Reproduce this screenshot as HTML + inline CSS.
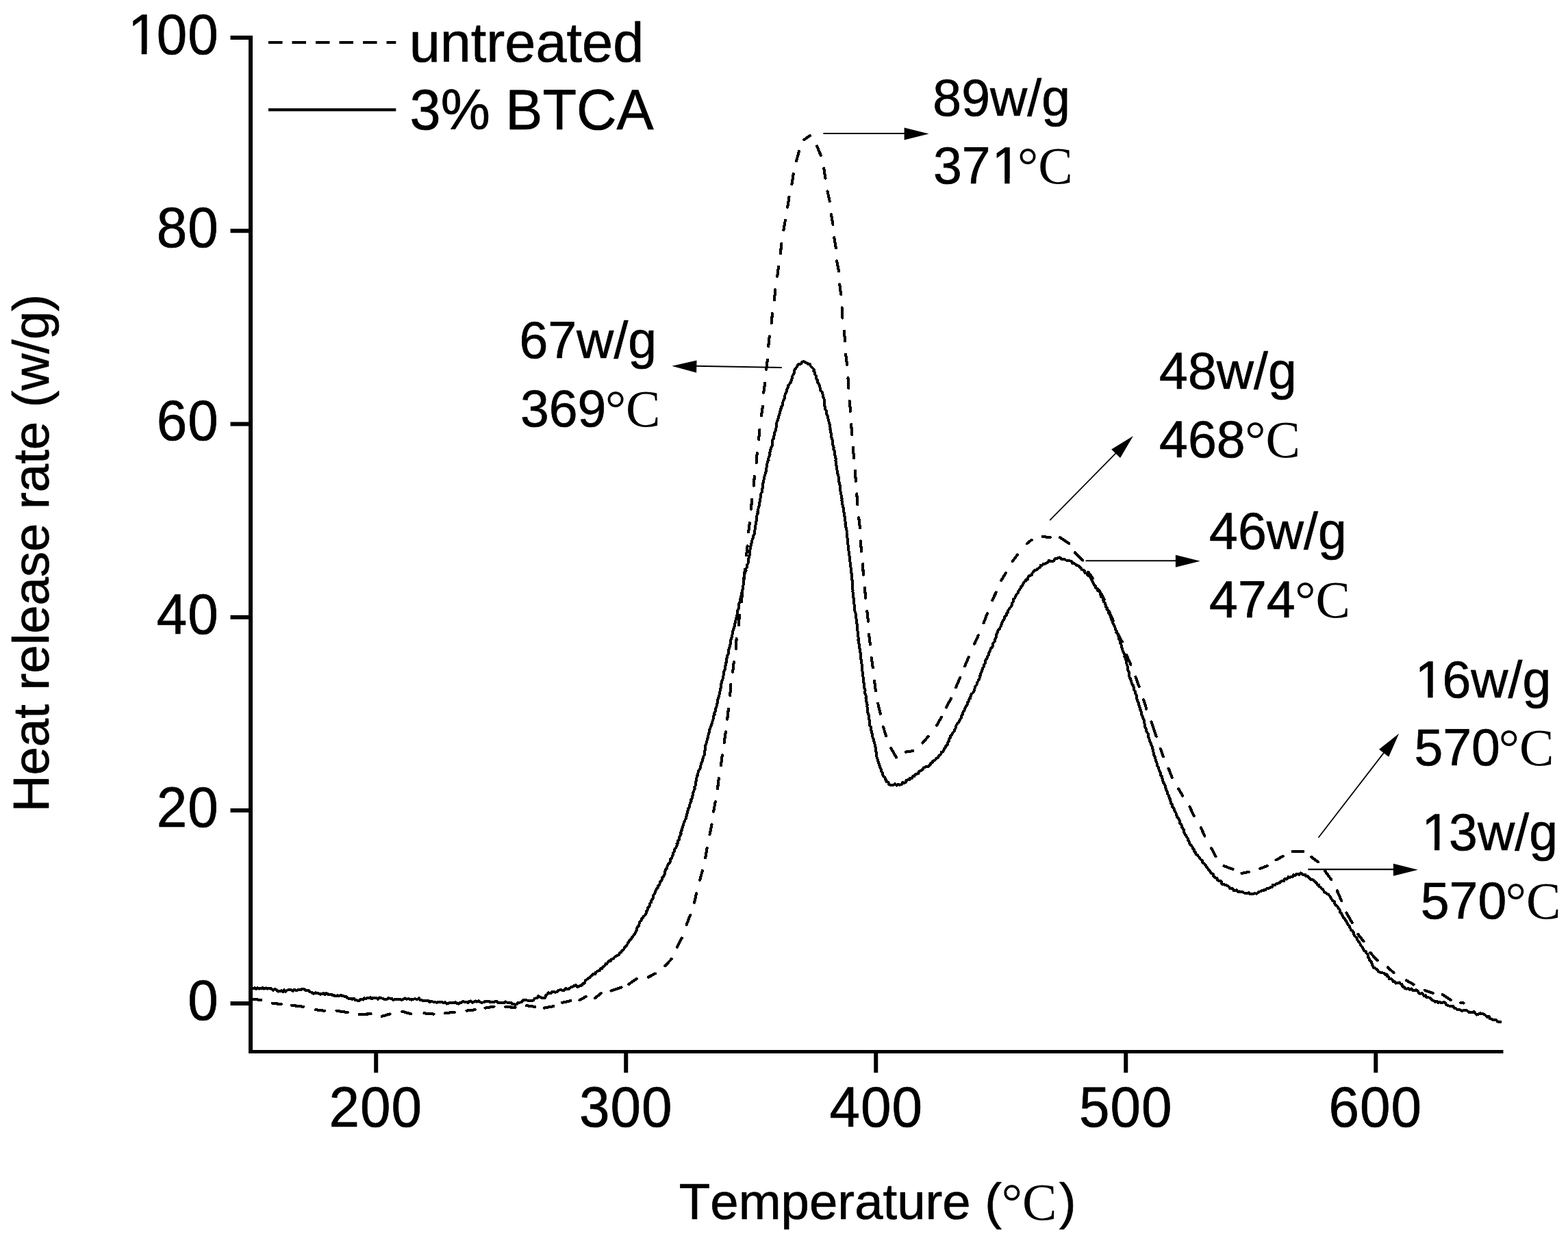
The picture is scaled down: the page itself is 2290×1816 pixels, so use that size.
<!DOCTYPE html>
<html lang="en">
<head>
<meta charset="utf-8">
<title>Heat release rate vs temperature</title>
<style>
html,body{margin:0;padding:0;background:#fff}
body{width:2290px;height:1816px;overflow:hidden}
svg{display:block}
text{font-kerning:none;white-space:pre}
</style>
</head>
<body>
<svg width="2290" height="1816" viewBox="0 0 2290 1816" role="img" aria-label="Heat release rate versus temperature for untreated and 3% BTCA treated samples">
<rect width="2290" height="1816" fill="#fff"/>
<!-- axes and ticks -->
<g stroke="#000" stroke-width="6.0" fill="none">
<path d="M366.0 52.0V1538.9"/>
<path d="M363.0 1536.4H2195.5" stroke-width="5.0"/>
<path d="M336.5 1466.10H366.0M336.5 1183.88H366.0M336.5 901.66H366.0M336.5 619.44H366.0M336.5 337.22H366.0M336.5 55.00H366.0M549.20 1536.4V1567.3M914.23 1536.4V1567.3M1279.25 1536.4V1567.3M1644.27 1536.4V1567.3M2009.30 1536.4V1567.3" stroke-width="6.0"/>
</g>
<!-- legend keys -->
<path d="M392 62.0H578.3" stroke="#000" stroke-width="4.0" stroke-dasharray="20.5 14" fill="none"/>
<path d="M392 160.3H578.3" stroke="#000" stroke-width="4.2" fill="none"/>
<!-- 3% BTCA (solid) -->
<path d="M368.9 1444.4 L370.2 1443.9 L371.9 1443.4 L373.8 1444.9 L376.0 1443.2 L378.4 1444.6 L380.9 1444.1 L383.5 1443.2 L385.9 1444.6 L388.4 1443.3 L390.7 1444.6 L392.8 1443.6 L395.1 1443.9 L397.1 1445.2 L398.9 1446.8 L401.3 1445.1 L403.2 1445.8 L404.9 1447.4 L406.7 1448.6 L409.0 1447.8 L411.2 1447.4 L413.1 1449.2 L415.1 1446.3 L417.2 1448.7 L419.2 1446.8 L421.3 1446.2 L423.4 1445.9 L425.6 1446.3 L427.8 1447.7 L429.7 1445.6 L431.7 1446.7 L433.5 1446.8 L435.9 1446.0 L438.3 1446.5 L440.7 1445.1 L443.0 1445.2 L445.1 1445.7 L446.9 1447.3 L448.7 1446.8 L450.4 1446.7 L452.1 1448.3 L453.0 1449.3 L456.0 1449.9 L457.1 1451.6 L458.9 1451.5 L461.0 1450.3 L463.1 1451.4 L465.4 1451.4 L467.7 1452.6 L470.1 1452.3 L472.5 1451.1 L474.5 1453.3 L476.7 1450.9 L478.4 1452.0 L479.7 1453.1 L483.8 1452.5 L485.2 1454.4 L487.5 1453.7 L489.2 1455.5 L491.1 1455.4 L493.0 1454.4 L495.4 1455.1 L498.5 1453.6 L499.9 1455.1 L501.7 1455.3 L503.7 1455.9 L505.9 1456.3 L507.7 1458.0 L509.8 1459.1 L512.4 1458.6 L514.5 1459.8 L517.0 1458.7 L518.7 1461.0 L520.7 1461.1 L522.8 1462.3 L524.9 1461.8 L526.7 1460.0 L528.5 1460.0 L530.5 1460.5 L532.1 1458.2 L534.4 1459.1 L536.6 1458.0 L539.1 1457.7 L541.0 1457.4 L543.0 1459.5 L545.1 1457.5 L547.4 1457.8 L549.7 1458.3 L552.1 1459.7 L554.5 1457.3 L556.9 1458.4 L559.2 1458.7 L561.4 1459.8 L563.5 1459.6 L565.5 1459.8 L567.3 1458.1 L568.9 1458.5 L572.1 1458.7 L573.5 1460.6 L574.7 1461.4 L577.0 1459.5 L580.0 1459.7 L581.5 1459.9 L583.3 1459.8 L585.2 1460.5 L587.3 1460.6 L589.4 1459.5 L591.6 1458.5 L594.0 1459.6 L596.4 1459.3 L598.7 1459.7 L601.1 1460.7 L603.4 1459.9 L605.6 1459.3 L607.7 1459.6 L609.7 1459.9 L612.1 1458.3 L613.7 1461.2 L615.8 1461.2 L617.6 1462.0 L619.6 1462.3 L621.8 1461.8 L623.7 1462.4 L625.8 1462.2 L627.4 1464.2 L629.8 1463.0 L631.8 1463.4 L634.0 1464.1 L635.9 1464.2 L637.8 1464.8 L639.8 1464.1 L641.8 1464.0 L643.9 1464.5 L646.0 1464.4 L648.1 1465.2 L650.3 1464.2 L652.5 1466.7 L654.6 1465.9 L656.8 1464.5 L659.0 1464.7 L661.1 1464.9 L663.3 1464.9 L665.4 1464.2 L667.5 1466.3 L669.6 1466.6 L671.5 1464.9 L673.5 1464.9 L675.4 1463.5 L677.4 1463.4 L679.4 1464.0 L681.4 1463.6 L683.6 1465.1 L685.5 1463.0 L687.6 1462.4 L690.0 1465.1 L692.1 1463.7 L694.4 1462.5 L696.9 1463.6 L698.7 1462.1 L700.7 1463.6 L702.7 1464.9 L704.8 1464.6 L707.0 1464.1 L709.2 1462.8 L711.5 1463.1 L713.8 1462.5 L716.1 1464.4 L718.4 1463.7 L720.7 1464.5 L723.0 1463.2 L725.2 1462.9 L727.3 1464.8 L729.4 1465.3 L731.4 1465.0 L733.3 1465.0 L735.1 1465.1 L736.7 1464.9 L738.3 1463.5 L739.6 1464.5 L743.8 1464.6 L746.5 1464.8 L747.8 1465.9 L748.4 1466.9 L749.9 1466.9 L752.0 1467.7 L754.4 1467.4 L756.0 1465.1 L758.8 1465.1 L760.9 1464.1 L762.8 1463.2 L764.0 1461.0 L766.8 1460.6 L769.1 1461.3 L771.1 1461.8 L773.3 1461.8 L775.2 1462.4 L777.5 1462.2 L779.4 1460.9 L780.9 1458.9 L783.0 1458.2 L785.0 1457.7 L786.2 1455.1 L789.0 1456.7 L791.2 1457.9 L793.6 1458.2 L796.0 1457.9 L797.0 1456.0 L797.4 1454.0 L799.5 1452.7 L801.0 1450.3 L802.9 1451.0 L804.8 1451.1 L806.4 1449.0 L808.6 1448.7 L811.1 1449.9 L813.4 1448.9 L815.4 1446.9 L817.5 1446.4 L819.5 1446.0 L822.4 1447.5 L824.5 1446.5 L826.1 1443.9 L828.9 1445.0 L831.2 1444.6 L832.9 1443.0 L834.6 1441.5 L836.5 1441.5 L838.9 1439.8 L841.3 1439.3 L843.6 1442.1 L845.6 1440.8 L847.6 1439.7 L849.8 1439.6 L850.6 1437.4 L852.7 1436.9 L854.2 1435.4 L854.8 1432.9 L856.5 1431.4 L858.4 1429.9 L859.8 1428.6 L861.9 1427.9 L863.1 1425.9 L865.0 1424.9 L866.3 1422.9 L869.3 1423.0 L870.1 1420.5 L871.9 1419.4 L873.7 1418.4 L876.0 1417.6 L877.0 1415.3 L879.4 1415.0 L880.5 1412.9 L882.1 1411.7 L883.7 1410.4 L884.4 1408.2 L886.5 1407.9 L887.8 1405.9 L889.1 1404.2 L891.8 1404.2 L892.2 1401.8 L894.2 1401.0 L896.1 1400.1 L897.4 1398.7 L898.6 1397.2 L900.4 1396.6 L902.1 1395.6 L904.1 1394.9 L904.7 1392.2 L907.1 1391.4 L907.8 1389.6 L909.1 1388.1 L911.2 1387.0 L912.0 1384.8 L913.4 1383.0 L915.0 1381.4 L916.4 1379.7 L916.8 1377.5 L918.2 1376.1 L919.0 1374.6 L920.7 1372.5 L922.3 1371.3 L923.0 1369.7 L924.3 1368.3 L925.5 1366.3 L927.0 1365.0 L927.6 1362.9 L928.7 1361.0 L929.8 1359.0 L929.7 1356.4 L931.1 1354.5 L932.7 1352.7 L933.5 1350.8 L933.6 1348.2 L934.7 1346.3 L936.4 1344.9 L937.0 1342.8 L938.5 1341.2 L939.4 1339.2 L941.6 1337.6 L942.7 1336.0 L943.8 1334.2 L943.6 1331.7 L945.3 1330.1 L946.2 1328.0 L946.4 1325.6 L948.4 1324.1 L949.4 1322.1 L949.2 1319.7 L951.1 1318.3 L951.2 1316.0 L952.1 1314.2 L953.7 1312.6 L954.3 1310.6 L954.1 1308.3 L955.4 1306.7 L956.3 1304.9 L956.9 1303.1 L957.7 1300.8 L959.1 1298.7 L960.9 1296.8 L960.9 1294.2 L962.8 1292.7 L963.6 1290.8 L963.8 1288.9 L965.4 1286.9 L966.4 1285.8 L967.4 1283.1 L967.4 1281.4 L969.4 1280.4 L969.9 1278.4 L971.0 1276.6 L970.7 1274.0 L971.8 1272.1 L972.4 1269.9 L974.3 1268.3 L974.5 1266.1 L975.1 1264.1 L976.3 1262.4 L977.9 1260.9 L978.6 1259.0 L978.6 1256.8 L979.3 1254.9 L981.2 1253.5 L981.6 1251.4 L982.6 1249.5 L982.5 1247.4 L983.2 1245.6 L984.8 1244.2 L985.2 1242.2 L985.5 1240.2 L987.4 1238.8 L987.7 1236.7 L988.7 1234.9 L988.5 1232.5 L990.3 1230.9 L989.9 1228.6 L991.7 1226.9 L991.8 1224.7 L992.4 1222.5 L993.4 1220.4 L994.6 1218.4 L994.4 1216.0 L994.9 1213.9 L996.1 1212.0 L996.4 1209.9 L996.8 1208.0 L997.7 1205.7 L998.3 1203.4 L999.2 1201.4 L1000.0 1199.5 L1000.6 1197.5 L1001.9 1195.7 L1001.9 1193.5 L1002.9 1191.4 L1003.1 1189.3 L1004.0 1187.3 L1004.2 1185.2 L1005.1 1183.2 L1005.4 1181.1 L1006.9 1179.2 L1007.3 1177.0 L1007.5 1174.8 L1008.5 1172.7 L1009.6 1170.9 L1009.1 1168.6 L1010.6 1166.8 L1010.7 1164.7 L1011.3 1162.6 L1012.3 1160.7 L1012.3 1158.4 L1013.0 1156.4 L1013.8 1154.3 L1014.7 1152.2 L1014.4 1150.1 L1015.5 1148.2 L1015.8 1146.2 L1016.2 1144.1 L1016.4 1142.0 L1016.9 1139.9 L1017.0 1137.8 L1017.6 1135.8 L1018.1 1133.7 L1019.4 1131.8 L1019.4 1129.6 L1019.9 1127.5 L1020.5 1125.4 L1022.2 1123.6 L1022.9 1121.5 L1023.4 1119.3 L1023.6 1117.1 L1024.3 1115.0 L1025.1 1113.0 L1026.0 1111.0 L1026.2 1109.0 L1027.1 1107.2 L1027.5 1104.9 L1028.7 1103.0 L1029.1 1101.0 L1029.0 1098.9 L1029.1 1096.9 L1030.1 1095.1 L1029.8 1092.9 L1030.3 1090.8 L1030.4 1088.4 L1031.3 1086.6 L1031.9 1084.8 L1032.4 1082.8 L1032.6 1080.7 L1033.5 1078.8 L1033.5 1076.5 L1034.4 1074.5 L1034.7 1072.4 L1035.7 1070.4 L1035.8 1068.2 L1036.4 1066.1 L1037.3 1064.1 L1037.7 1062.1 L1038.7 1060.1 L1039.2 1058.0 L1040.1 1056.0 L1040.5 1053.8 L1041.2 1051.8 L1041.9 1049.8 L1041.9 1047.5 L1042.4 1045.5 L1043.7 1043.8 L1043.2 1041.6 L1044.4 1040.0 L1044.9 1037.6 L1044.7 1035.3 L1046.1 1033.5 L1046.7 1031.5 L1046.9 1029.5 L1047.5 1027.6 L1048.0 1025.6 L1047.8 1023.3 L1048.7 1021.2 L1049.2 1019.3 L1050.0 1017.4 L1050.4 1015.3 L1050.9 1013.3 L1051.1 1011.1 L1051.9 1009.0 L1052.2 1006.9 L1052.7 1004.8 L1052.6 1002.6 L1052.9 1000.5 L1053.4 998.6 L1054.1 996.6 L1054.3 994.5 L1055.5 992.7 L1055.6 990.6 L1056.1 988.7 L1056.6 986.8 L1057.0 984.9 L1057.2 982.9 L1057.1 980.8 L1058.4 979.1 L1058.8 977.1 L1058.9 975.1 L1059.4 973.2 L1059.9 971.2 L1059.7 969.2 L1060.9 967.4 L1060.7 965.3 L1061.0 963.3 L1061.6 961.3 L1062.5 959.5 L1062.4 957.3 L1063.5 955.4 L1064.2 953.4 L1064.1 951.2 L1064.4 949.1 L1065.0 947.1 L1065.7 945.1 L1066.3 943.0 L1066.6 940.9 L1067.1 938.8 L1066.9 936.6 L1067.5 934.5 L1068.1 932.4 L1069.1 930.4 L1069.1 928.2 L1069.8 926.2 L1069.7 924.0 L1070.2 922.0 L1070.9 920.1 L1071.8 918.2 L1072.4 916.0 L1072.9 913.8 L1072.9 911.7 L1073.7 909.7 L1074.1 907.7 L1074.6 905.7 L1074.8 903.5 L1076.1 901.4 L1075.8 899.3 L1077.1 897.5 L1077.4 895.5 L1076.9 893.2 L1077.8 891.2 L1078.6 889.1 L1079.2 887.0 L1079.1 884.8 L1079.3 882.7 L1079.7 880.7 L1081.0 878.8 L1080.6 876.6 L1081.5 874.7 L1081.5 872.6 L1082.5 870.7 L1083.4 868.8 L1083.0 866.5 L1084.2 864.5 L1084.3 862.1 L1085.0 860.3 L1085.2 858.3 L1085.0 856.2 L1085.9 854.2 L1085.9 852.0 L1085.7 849.7 L1086.0 847.6 L1086.8 845.5 L1087.1 843.4 L1087.2 841.4 L1087.4 839.4 L1087.9 837.7 L1088.4 835.2 L1089.6 833.3 L1089.1 831.0 L1090.6 829.4 L1091.3 827.5 L1091.0 825.3 L1092.5 823.4 L1092.8 821.0 L1093.4 819.2 L1093.1 817.2 L1093.6 815.2 L1093.9 813.1 L1094.9 811.0 L1094.8 808.8 L1095.0 806.6 L1095.4 804.4 L1095.6 802.3 L1095.7 800.2 L1096.1 798.3 L1097.3 796.7 L1097.2 794.1 L1098.5 792.2 L1098.2 790.0 L1098.8 788.1 L1099.6 786.3 L1099.8 784.2 L1100.5 782.1 L1101.7 779.8 L1101.9 778.0 L1102.2 776.1 L1102.4 774.2 L1103.0 772.2 L1103.3 770.2 L1103.3 768.0 L1103.8 765.9 L1103.5 763.7 L1104.5 761.7 L1104.5 759.5 L1105.2 757.5 L1105.4 755.4 L1105.5 753.3 L1105.6 751.3 L1106.9 749.4 L1106.4 747.2 L1107.2 745.3 L1107.5 743.2 L1107.8 741.2 L1108.7 739.2 L1109.3 737.3 L1109.0 735.1 L1109.8 733.2 L1109.8 731.1 L1110.4 729.1 L1110.7 727.0 L1110.8 724.9 L1111.2 722.9 L1111.6 720.8 L1112.7 718.9 L1112.7 716.8 L1112.8 714.7 L1113.9 712.8 L1114.3 710.8 L1114.2 708.8 L1114.2 706.7 L1114.7 704.7 L1115.0 702.6 L1115.6 700.7 L1115.8 698.8 L1116.3 696.9 L1116.7 694.9 L1117.5 693.0 L1118.3 691.1 L1118.6 688.9 L1118.7 686.6 L1119.2 684.3 L1119.7 682.5 L1120.0 680.5 L1120.4 678.5 L1120.6 676.3 L1121.3 674.2 L1122.6 672.3 L1122.2 669.8 L1123.1 667.7 L1123.8 665.6 L1124.6 663.5 L1124.3 661.2 L1124.9 659.1 L1125.3 657.1 L1126.0 655.2 L1126.4 653.4 L1127.6 651.2 L1128.0 648.9 L1128.5 646.8 L1128.0 644.5 L1128.5 642.6 L1129.7 640.8 L1130.3 639.0 L1130.3 636.9 L1130.9 635.1 L1130.7 633.0 L1131.6 631.1 L1132.6 629.2 L1133.0 627.1 L1133.5 625.0 L1134.1 622.9 L1133.7 620.7 L1134.1 618.6 L1134.6 616.5 L1135.4 614.6 L1136.1 612.7 L1136.9 610.8 L1137.2 608.9 L1137.7 606.6 L1138.5 604.6 L1138.8 602.4 L1139.6 600.4 L1139.6 598.2 L1141.2 596.6 L1141.2 594.3 L1142.7 592.6 L1143.1 590.4 L1143.3 588.2 L1143.7 586.1 L1144.5 584.1 L1145.6 582.1 L1146.4 580.0 L1146.3 577.6 L1146.9 575.5 L1148.1 573.7 L1148.9 571.8 L1149.2 569.8 L1149.8 567.6 L1151.2 565.8 L1151.2 563.5 L1152.4 561.9 L1153.5 560.2 L1155.0 558.8 L1155.3 556.8 L1156.3 555.2 L1156.6 552.7 L1157.1 550.3 L1157.9 548.0 L1159.5 546.2 L1160.0 544.0 L1160.2 541.9 L1160.8 539.5 L1162.5 537.8 L1163.9 536.1 L1164.6 534.1 L1165.6 532.4 L1168.0 531.8 L1170.1 531.5 L1171.4 528.9 L1173.5 528.0 L1176.1 529.2 L1178.6 530.3 L1180.6 532.2 L1183.1 532.4 L1183.8 534.9 L1185.5 536.4 L1187.4 538.3 L1188.7 539.9 L1188.4 542.4 L1190.1 544.3 L1190.1 546.8 L1191.6 548.9 L1192.4 551.2 L1192.4 553.6 L1193.8 555.5 L1193.7 557.9 L1195.1 559.8 L1196.3 561.9 L1197.1 564.2 L1197.6 566.3 L1198.1 568.5 L1198.5 570.8 L1200.5 572.5 L1200.9 574.8 L1201.9 576.8 L1201.6 579.3 L1203.1 581.1 L1203.6 583.3 L1204.0 585.4 L1204.0 587.6 L1203.8 589.8 L1204.2 591.9 L1204.7 594.1 L1204.9 596.2 L1205.5 598.3 L1206.7 600.2 L1207.4 602.2 L1207.1 604.6 L1207.9 606.7 L1209.2 608.7 L1209.0 610.8 L1209.8 612.8 L1210.2 614.8 L1210.8 616.9 L1211.4 618.9 L1212.0 621.0 L1212.2 623.3 L1212.6 625.5 L1212.3 627.6 L1213.5 629.4 L1213.0 631.6 L1214.1 633.6 L1214.3 635.7 L1214.2 637.9 L1214.6 640.0 L1215.3 642.0 L1216.0 644.0 L1216.0 646.2 L1216.5 648.2 L1216.3 650.4 L1217.4 652.3 L1217.6 654.4 L1217.4 656.6 L1218.7 658.5 L1218.6 660.6 L1218.6 662.7 L1219.0 664.8 L1220.1 666.8 L1220.4 668.9 L1220.7 671.0 L1220.2 673.2 L1221.2 675.2 L1221.1 677.6 L1221.3 680.1 L1222.2 681.8 L1222.5 683.7 L1222.2 685.8 L1222.8 687.8 L1223.5 689.8 L1223.4 691.9 L1224.2 694.0 L1224.5 696.2 L1225.2 698.4 L1224.8 700.7 L1225.0 703.1 L1225.6 704.9 L1225.6 706.8 L1226.7 708.6 L1226.8 710.7 L1226.9 712.7 L1226.8 714.9 L1227.1 716.9 L1227.9 718.9 L1228.4 721.0 L1228.5 723.1 L1228.8 725.1 L1228.7 727.2 L1229.7 729.1 L1229.4 731.1 L1229.8 733.2 L1230.0 735.3 L1230.4 737.3 L1230.9 739.3 L1231.5 741.3 L1231.8 743.3 L1232.1 745.3 L1232.0 747.4 L1233.0 749.2 L1233.2 751.2 L1233.0 753.3 L1233.7 755.3 L1234.2 757.2 L1234.5 759.3 L1234.3 761.4 L1234.8 763.4 L1234.5 765.5 L1234.9 767.6 L1235.0 769.7 L1235.9 771.6 L1236.4 773.7 L1236.6 775.7 L1236.5 777.7 L1236.6 779.7 L1237.0 781.6 L1237.4 783.5 L1237.5 785.7 L1237.6 787.8 L1237.8 789.8 L1237.9 791.8 L1238.0 793.8 L1238.4 795.7 L1239.0 797.6 L1238.6 799.6 L1239.3 801.6 L1239.3 803.7 L1239.7 805.9 L1239.6 807.8 L1240.3 809.7 L1240.5 811.7 L1240.8 813.7 L1241.1 815.7 L1240.7 817.8 L1241.3 819.8 L1241.7 821.8 L1241.9 823.9 L1241.7 826.0 L1242.3 828.0 L1242.8 830.0 L1242.5 832.1 L1242.9 834.1 L1242.8 836.2 L1243.7 838.1 L1243.6 840.2 L1243.5 842.2 L1243.7 844.2 L1243.8 846.2 L1244.7 848.2 L1244.7 850.2 L1245.0 852.2 L1245.1 854.2 L1244.6 856.3 L1245.1 858.3 L1245.0 860.3 L1245.6 862.3 L1245.4 864.4 L1245.9 866.4 L1246.2 868.4 L1246.0 870.4 L1246.0 872.4 L1246.8 874.4 L1246.6 876.4 L1246.8 878.5 L1247.3 880.4 L1247.4 882.5 L1247.8 884.5 L1248.0 886.5 L1248.2 888.5 L1248.2 890.6 L1248.4 892.6 L1249.1 894.5 L1249.6 896.5 L1249.6 898.6 L1249.6 900.6 L1250.4 902.6 L1250.6 904.6 L1250.9 906.6 L1250.7 908.7 L1251.2 910.7 L1251.8 912.7 L1252.0 914.8 L1252.0 916.9 L1252.1 919.0 L1252.2 921.1 L1252.9 923.2 L1253.0 925.3 L1252.8 927.4 L1253.2 929.4 L1253.6 931.3 L1253.7 933.3 L1253.4 935.2 L1254.2 936.9 L1254.2 939.2 L1254.7 941.3 L1255.0 943.2 L1254.9 945.0 L1255.0 946.9 L1256.0 948.6 L1256.4 950.6 L1256.3 953.0 L1257.1 955.6 L1257.4 957.2 L1256.8 959.0 L1257.4 960.8 L1257.3 962.7 L1257.9 964.7 L1257.7 966.7 L1258.2 968.8 L1258.7 970.9 L1259.0 973.0 L1258.8 975.2 L1258.9 977.3 L1258.9 979.5 L1259.8 981.6 L1259.6 983.7 L1260.1 985.8 L1260.2 987.8 L1260.8 989.9 L1261.0 992.0 L1261.0 994.1 L1260.9 996.3 L1262.0 998.3 L1262.0 1000.4 L1262.0 1002.5 L1262.1 1004.6 L1263.2 1006.6 L1263.6 1008.7 L1263.1 1010.9 L1263.4 1013.0 L1264.2 1015.1 L1264.9 1017.2 L1264.4 1019.5 L1265.2 1021.4 L1265.0 1023.6 L1265.6 1025.7 L1265.7 1027.9 L1266.6 1030.0 L1266.3 1032.3 L1267.1 1034.5 L1267.2 1036.7 L1267.1 1038.9 L1267.4 1041.1 L1268.3 1043.1 L1268.6 1045.2 L1268.7 1047.2 L1268.9 1049.2 L1269.3 1051.0 L1269.9 1052.7 L1270.2 1055.2 L1270.1 1057.7 L1270.4 1060.0 L1271.7 1062.0 L1271.6 1064.2 L1271.8 1066.2 L1273.0 1068.0 L1272.5 1070.0 L1273.7 1071.6 L1273.6 1073.4 L1274.0 1075.0 L1274.6 1077.6 L1275.6 1079.6 L1276.1 1081.5 L1276.5 1083.3 L1277.3 1085.4 L1277.6 1088.0 L1278.2 1089.7 L1278.5 1091.6 L1279.2 1093.6 L1279.0 1095.8 L1279.4 1098.0 L1280.0 1100.2 L1279.8 1102.5 L1280.1 1104.7 L1280.8 1106.7 L1281.5 1108.5 L1281.5 1110.3 L1282.7 1112.9 L1283.5 1115.2 L1283.8 1117.3 L1285.1 1119.1 L1285.4 1121.2 L1286.2 1123.3 L1287.5 1125.0 L1287.4 1127.2 L1288.9 1128.9 L1288.8 1131.1 L1289.5 1133.0 L1290.7 1134.7 L1292.4 1135.9 L1292.9 1138.2 L1294.3 1139.8 L1294.6 1142.3 L1297.4 1142.6 L1297.8 1145.3 L1299.6 1146.8 L1302.0 1146.8 L1304.4 1147.3 L1306.9 1145.4 L1309.6 1147.6 L1311.8 1145.8 L1314.3 1146.8 L1316.7 1146.0 L1318.0 1143.2 L1320.7 1143.8 L1322.9 1143.0 L1323.6 1139.9 L1325.8 1139.4 L1328.2 1139.1 L1329.0 1136.6 L1332.0 1136.7 L1333.2 1133.9 L1335.6 1133.9 L1336.4 1131.3 L1338.7 1130.7 L1341.2 1130.2 L1342.1 1127.4 L1344.2 1126.1 L1346.5 1125.1 L1347.8 1123.6 L1349.0 1121.8 L1351.0 1120.9 L1352.7 1119.6 L1355.5 1119.9 L1356.8 1118.1 L1358.8 1117.3 L1359.3 1114.6 L1361.7 1114.5 L1362.5 1111.7 L1364.8 1110.9 L1366.6 1109.6 L1367.7 1107.6 L1370.1 1106.8 L1371.0 1104.7 L1372.5 1103.0 L1374.5 1101.7 L1374.6 1098.9 L1377.4 1098.2 L1378.2 1095.9 L1379.1 1093.7 L1381.0 1092.2 L1381.3 1089.7 L1383.5 1088.6 L1383.8 1086.4 L1384.3 1084.4 L1385.8 1082.9 L1386.2 1080.8 L1386.7 1078.7 L1388.5 1077.1 L1388.4 1074.6 L1390.5 1073.5 L1390.7 1071.2 L1392.3 1069.8 L1393.9 1068.2 L1394.3 1066.0 L1395.5 1064.2 L1396.0 1062.0 L1396.6 1059.8 L1397.7 1057.9 L1398.8 1056.2 L1400.5 1054.8 L1401.1 1052.8 L1402.2 1051.0 L1403.8 1049.3 L1403.6 1046.9 L1404.6 1045.1 L1406.2 1043.5 L1406.1 1041.2 L1407.0 1039.5 L1408.4 1037.8 L1408.9 1035.8 L1410.0 1034.1 L1410.6 1032.2 L1411.9 1030.6 L1412.7 1028.8 L1412.9 1026.7 L1414.4 1025.1 L1415.1 1023.1 L1415.4 1021.1 L1417.5 1019.9 L1417.4 1017.5 L1418.2 1015.6 L1419.1 1013.7 L1420.9 1012.3 L1422.2 1010.6 L1423.0 1008.6 L1423.4 1006.4 L1424.1 1004.3 L1424.5 1002.4 L1426.2 1001.0 L1426.8 999.1 L1427.3 997.2 L1428.4 995.5 L1428.9 993.6 L1430.3 992.0 L1430.8 990.0 L1430.9 987.8 L1432.5 986.2 L1432.1 983.9 L1433.5 982.2 L1434.1 980.1 L1434.6 978.0 L1435.1 975.9 L1436.9 974.2 L1436.6 971.7 L1438.1 970.0 L1439.4 968.1 L1439.0 965.7 L1439.9 963.8 L1441.3 962.1 L1442.0 959.9 L1443.1 957.9 L1444.3 955.9 L1444.3 953.5 L1445.5 951.5 L1446.4 949.5 L1447.0 947.4 L1449.1 946.1 L1449.7 944.1 L1450.4 942.3 L1450.4 939.6 L1452.4 937.8 L1453.0 935.6 L1453.4 933.5 L1454.5 931.6 L1454.8 929.5 L1455.3 927.2 L1455.9 925.3 L1456.9 923.5 L1457.4 921.4 L1458.7 919.7 L1460.1 918.1 L1460.8 916.2 L1461.9 914.5 L1462.5 912.6 L1462.8 910.4 L1464.1 908.7 L1464.8 906.7 L1466.3 905.1 L1466.8 903.1 L1467.3 901.1 L1468.8 899.7 L1470.4 898.1 L1470.3 895.5 L1472.5 894.4 L1472.2 891.8 L1473.7 890.1 L1474.7 888.2 L1476.3 886.8 L1477.3 885.1 L1477.8 883.2 L1477.9 881.1 L1479.5 879.5 L1479.5 877.3 L1480.3 875.2 L1482.2 873.9 L1482.8 871.8 L1484.0 869.9 L1485.0 868.0 L1486.6 866.3 L1487.0 864.0 L1488.6 862.6 L1489.4 860.8 L1490.9 859.0 L1491.4 856.9 L1493.0 855.6 L1493.9 853.9 L1494.7 851.9 L1496.0 850.0 L1497.9 849.1 L1498.3 846.9 L1501.1 846.5 L1501.2 843.8 L1502.5 842.1 L1504.1 840.6 L1506.9 840.4 L1507.3 838.0 L1508.6 836.1 L1510.0 834.4 L1511.6 832.9 L1514.2 832.5 L1515.7 831.0 L1517.4 829.8 L1519.1 828.6 L1519.9 825.8 L1522.6 825.5 L1524.1 823.7 L1526.6 823.5 L1528.5 822.4 L1530.4 821.7 L1531.7 818.6 L1534.7 820.1 L1537.0 819.7 L1539.2 819.4 L1540.7 816.5 L1543.2 816.1 L1545.5 815.2 L1547.8 814.4 L1550.2 816.7 L1552.3 816.9 L1554.6 817.0 L1556.7 818.4 L1559.4 819.1 L1561.5 819.1 L1563.6 819.7 L1565.5 820.7 L1566.6 823.4 L1569.2 823.3 L1571.0 824.7 L1572.6 826.1 L1575.2 826.6 L1576.8 828.4 L1578.7 829.8 L1579.8 832.1 L1582.2 832.8 L1584.0 834.3 L1584.6 837.0 L1587.0 837.9 L1588.1 840.1 L1590.0 841.5 L1592.4 842.5 L1593.0 844.7 L1594.3 846.8 L1594.9 849.0 L1596.5 850.7 L1597.0 853.1 L1598.4 855.0 L1600.1 856.5 L1600.3 859.0 L1602.8 860.0 L1602.9 862.7 L1605.2 863.9 L1606.7 865.7 L1607.3 867.7 L1607.5 870.0 L1608.1 872.0 L1610.5 873.1 L1610.6 875.4 L1611.5 877.2 L1612.0 879.3 L1613.7 880.7 L1614.0 882.7 L1615.0 884.5 L1615.1 886.6 L1616.7 888.1 L1616.5 890.4 L1618.3 892.0 L1619.2 893.7 L1619.3 895.8 L1620.4 897.6 L1621.8 899.2 L1621.9 901.4 L1623.5 903.0 L1623.3 905.3 L1624.2 907.1 L1625.0 909.3 L1626.0 911.3 L1627.2 913.3 L1627.9 915.4 L1628.7 917.5 L1628.8 919.9 L1630.7 921.6 L1630.4 924.1 L1632.3 925.8 L1632.9 928.0 L1633.6 930.2 L1633.6 932.6 L1634.9 934.6 L1635.8 936.6 L1635.8 939.0 L1637.3 940.8 L1637.7 943.0 L1638.3 945.2 L1638.7 947.4 L1639.3 949.5 L1640.1 951.6 L1641.1 953.4 L1641.8 955.3 L1642.6 957.0 L1642.4 959.2 L1643.3 961.2 L1643.9 963.6 L1645.3 966.2 L1645.4 968.0 L1645.5 970.0 L1646.1 972.1 L1647.1 974.2 L1647.2 976.5 L1647.3 979.0 L1648.5 981.2 L1649.0 983.5 L1649.4 985.8 L1649.4 988.0 L1649.7 990.1 L1651.0 991.7 L1651.4 993.3 L1652.2 996.0 L1652.9 998.0 L1653.4 999.7 L1654.7 1000.8 L1655.2 1002.5 L1656.1 1004.3 L1655.7 1006.6 L1656.7 1008.5 L1658.2 1010.4 L1657.8 1012.9 L1659.5 1014.8 L1659.8 1017.1 L1659.7 1019.6 L1660.5 1021.5 L1661.2 1023.6 L1662.1 1025.7 L1663.0 1027.8 L1663.0 1030.1 L1664.2 1032.0 L1664.7 1034.1 L1665.0 1036.1 L1666.3 1038.3 L1666.7 1040.7 L1666.9 1043.0 L1667.9 1045.0 L1668.9 1047.0 L1669.4 1049.1 L1670.2 1051.2 L1671.1 1053.2 L1671.0 1055.5 L1671.7 1057.5 L1671.8 1059.8 L1672.2 1062.1 L1673.4 1064.0 L1674.0 1066.1 L1674.5 1068.4 L1675.7 1070.4 L1676.8 1072.5 L1676.9 1074.9 L1677.4 1077.1 L1678.2 1079.1 L1679.0 1081.2 L1679.5 1083.3 L1680.4 1085.3 L1681.1 1087.4 L1682.0 1089.5 L1682.8 1091.6 L1683.0 1093.8 L1684.2 1095.7 L1684.4 1098.0 L1684.6 1100.3 L1685.2 1102.4 L1685.9 1104.5 L1686.9 1106.4 L1687.3 1108.4 L1688.0 1110.8 L1688.6 1113.1 L1689.6 1115.1 L1690.0 1117.3 L1690.5 1119.5 L1692.2 1121.2 L1692.4 1123.6 L1693.0 1125.9 L1694.3 1127.8 L1695.0 1130.1 L1695.1 1132.5 L1697.1 1134.2 L1697.2 1136.6 L1698.4 1138.5 L1698.4 1140.9 L1698.9 1143.1 L1700.3 1145.1 L1701.6 1147.2 L1701.8 1149.5 L1702.6 1151.6 L1703.2 1153.8 L1704.3 1155.9 L1705.0 1158.1 L1705.5 1160.3 L1706.7 1162.2 L1707.5 1164.1 L1707.5 1166.3 L1709.1 1167.9 L1709.1 1170.0 L1710.1 1171.8 L1710.3 1173.8 L1711.8 1175.3 L1711.5 1177.9 L1713.2 1179.6 L1714.5 1181.4 L1715.1 1183.5 L1715.9 1185.7 L1717.4 1187.5 L1717.7 1189.5 L1718.6 1191.3 L1719.1 1193.4 L1720.6 1194.9 L1721.7 1196.7 L1722.7 1198.6 L1722.8 1201.0 L1723.4 1202.9 L1724.8 1204.5 L1726.0 1206.2 L1726.0 1208.4 L1727.4 1210.1 L1728.5 1211.9 L1729.4 1213.7 L1729.3 1215.9 L1730.2 1217.8 L1731.3 1219.6 L1732.4 1221.2 L1733.2 1223.1 L1734.6 1224.6 L1734.5 1227.0 L1736.4 1228.5 L1736.9 1230.5 L1737.6 1232.5 L1738.7 1234.4 L1740.2 1236.0 L1741.6 1237.8 L1742.2 1239.9 L1744.0 1241.4 L1744.0 1243.8 L1746.0 1245.3 L1746.5 1247.8 L1748.8 1249.0 L1750.0 1251.0 L1751.5 1252.7 L1752.6 1254.7 L1754.3 1256.1 L1755.9 1257.5 L1756.1 1260.1 L1758.1 1261.1 L1759.5 1262.6 L1760.8 1264.2 L1761.8 1266.0 L1763.2 1267.5 L1764.2 1269.4 L1765.5 1271.0 L1767.3 1272.3 L1767.7 1274.7 L1769.2 1276.2 L1771.8 1276.6 L1771.9 1279.2 L1773.3 1281.0 L1774.9 1282.4 L1777.5 1283.0 L1777.9 1285.7 L1779.7 1286.8 L1782.4 1287.1 L1784.1 1288.4 L1784.5 1291.6 L1786.9 1292.3 L1789.3 1292.6 L1791.5 1293.4 L1793.3 1294.6 L1795.0 1295.8 L1796.2 1298.1 L1798.5 1297.9 L1800.6 1298.3 L1801.6 1301.0 L1803.6 1301.4 L1806.3 1300.3 L1808.0 1302.8 L1810.4 1302.4 L1812.5 1303.3 L1814.9 1303.4 L1816.8 1304.5 L1819.0 1304.8 L1821.1 1305.5 L1823.8 1304.2 L1825.7 1306.0 L1828.0 1305.7 L1830.3 1306.2 L1832.4 1305.0 L1834.9 1305.8 L1836.8 1304.3 L1838.7 1302.9 L1840.8 1302.2 L1842.6 1301.3 L1844.8 1301.5 L1846.2 1299.7 L1848.4 1299.9 L1849.8 1298.2 L1852.1 1298.2 L1854.0 1297.2 L1855.9 1296.2 L1858.2 1295.8 L1858.9 1292.7 L1861.9 1293.5 L1863.3 1291.6 L1865.2 1290.9 L1867.2 1290.2 L1869.3 1289.7 L1870.6 1287.7 L1872.5 1286.9 L1875.0 1287.3 L1875.8 1284.2 L1878.4 1284.6 L1880.4 1283.6 L1881.5 1281.1 L1884.0 1281.7 L1885.7 1281.0 L1888.1 1280.6 L1889.0 1278.2 L1891.3 1279.1 L1892.9 1277.3 L1894.9 1276.9 L1897.3 1278.0 L1899.6 1275.3 L1901.8 1277.5 L1904.0 1277.6 L1906.3 1277.7 L1907.4 1280.1 L1910.0 1280.4 L1911.6 1282.0 L1913.4 1283.5 L1914.9 1285.2 L1917.6 1285.3 L1919.1 1287.0 L1921.0 1288.3 L1922.5 1290.0 L1923.6 1292.0 L1926.0 1292.8 L1926.5 1295.2 L1928.7 1296.4 L1930.1 1298.2 L1931.9 1299.2 L1933.1 1301.0 L1933.9 1303.2 L1936.1 1304.0 L1937.4 1305.6 L1939.6 1306.3 L1941.2 1308.1 L1942.8 1309.9 L1943.7 1312.0 L1945.1 1314.0 L1946.3 1316.1 L1948.8 1317.0 L1948.9 1319.6 L1949.8 1321.6 L1951.6 1323.1 L1953.6 1324.5 L1954.5 1326.8 L1956.2 1328.2 L1957.1 1330.3 L1957.2 1333.0 L1959.0 1334.6 L1960.2 1336.5 L1961.2 1338.5 L1962.1 1340.4 L1963.8 1342.1 L1964.9 1343.9 L1965.9 1345.7 L1966.9 1347.6 L1968.0 1349.3 L1968.9 1351.2 L1970.7 1352.6 L1971.0 1354.8 L1972.4 1356.5 L1972.9 1358.6 L1975.0 1359.8 L1976.0 1361.7 L1977.4 1363.2 L1977.4 1365.7 L1978.4 1367.6 L1980.0 1368.9 L1981.6 1370.2 L1982.0 1372.3 L1983.2 1374.2 L1984.6 1376.1 L1986.0 1377.9 L1986.9 1379.8 L1987.7 1381.6 L1989.2 1383.3 L1990.4 1385.1 L1991.5 1387.0 L1992.4 1389.2 L1994.9 1390.0 L1995.2 1392.4 L1997.2 1393.9 L1998.2 1396.0 L1998.2 1398.6 L1999.5 1400.3 L1999.9 1402.4 L2001.5 1404.1 L2003.1 1405.7 L2003.5 1407.8 L2004.2 1409.7 L2004.9 1412.0 L2006.2 1413.7 L2008.5 1414.5 L2010.0 1415.8 L2011.8 1416.6 L2012.8 1419.4 L2015.2 1420.2 L2017.2 1421.2 L2019.1 1421.4 L2021.3 1421.7 L2023.1 1424.0 L2025.6 1423.4 L2025.8 1426.3 L2028.3 1427.2 L2028.7 1430.3 L2031.5 1430.2 L2033.6 1431.4 L2034.6 1434.3 L2037.4 1434.4 L2038.8 1436.6 L2041.5 1435.7 L2043.7 1435.4 L2045.6 1437.7 L2047.1 1437.8 L2048.0 1439.3 L2048.5 1441.4 L2050.8 1442.2 L2051.8 1444.0 L2054.1 1444.6 L2056.7 1444.2 L2058.9 1445.9 L2061.5 1444.4 L2063.2 1447.1 L2065.4 1447.2 L2068.2 1446.3 L2070.3 1447.3 L2071.6 1450.0 L2073.6 1451.7 L2076.7 1451.3 L2078.2 1453.0 L2079.7 1455.0 L2082.0 1454.4 L2083.1 1457.1 L2085.5 1457.3 L2088.2 1457.6 L2089.9 1459.6 L2091.8 1461.3 L2094.1 1462.0 L2095.9 1463.6 L2098.5 1463.0 L2100.2 1465.4 L2102.4 1464.2 L2104.6 1464.9 L2106.6 1464.7 L2108.7 1464.3 L2110.6 1465.0 L2111.7 1467.0 L2113.2 1468.6 L2115.3 1469.4 L2117.6 1469.7 L2119.9 1469.6 L2122.3 1469.6 L2123.4 1472.7 L2126.0 1473.2 L2128.1 1474.8 L2131.0 1474.5 L2132.9 1475.6 L2134.9 1476.8 L2137.0 1476.4 L2139.1 1476.0 L2141.6 1476.0 L2143.7 1477.4 L2145.3 1479.5 L2147.6 1478.7 L2150.7 1478.9 L2153.0 1478.0 L2154.3 1480.4 L2156.9 1482.6 L2159.4 1481.4 L2161.9 1480.4 L2164.7 1481.0 L2167.2 1481.7 L2168.9 1482.9 L2170.2 1484.4 L2171.7 1485.8 L2174.6 1485.0 L2175.6 1487.9 L2177.7 1488.7 L2179.8 1489.7 L2182.3 1489.8 L2185.1 1490.0 L2187.1 1492.5 L2189.5 1493.3 L2191.4 1493.1" fill="none" stroke="#000" stroke-width="4.0" stroke-linejoin="round" stroke-linecap="round" shape-rendering="crispEdges"/>
<!-- untreated (dashed) -->
<path d="M370.2 1459.9L381.2 1461.0M397.7 1465.8L410.9 1467.1M425.9 1468.8L442.9 1470.8M460.8 1475.2L473.9 1476.8M491.4 1476.7L507.9 1479.1M524.8 1482.0L541.7 1481.3M557.6 1484.8L569.5 1481.5M587.3 1477.7L600.1 1481.2M619.4 1480.3L633.5 1481.6M650.0 1480.1L663.7 1478.8M681.5 1476.6L693.8 1475.2M708.4 1472.6L721.6 1470.7M738.1 1471.0L752.6 1471.9M769.1 1469.1L781.4 1470.9M795.1 1472.6L808.3 1470.1M821.1 1464.9L833.3 1462.1M846.5 1461.2L855.8 1455.9M869.0 1458.2L877.8 1451.1M892.4 1447.5L907.6 1442.4M918.3 1437.9L929.6 1430.1M947.1 1427.5L956.8 1422.5M971.3 1411.2L980.7 1401.1M988.7 1383.7L995.8 1370.5M1002.7 1351.2L1008.0 1336.9M1014.0 1318.6L1017.1 1305.4M1022.0 1286.0L1025.9 1272.1M1030.2 1253.4L1032.6 1238.6M1036.5 1219.1L1039.6 1204.3M1042.0 1186.0L1044.8 1171.2M1048.0 1152.3L1049.8 1137.0M1053.0 1118.1L1054.8 1103.3M1057.7 1085.0L1059.8 1069.2M1062.2 1050.7L1063.9 1035.6M1066.2 1016.1L1067.3 1000.0M1070.2 981.7L1071.8 967.2M1074.9 947.8L1075.6 933.0M1078.8 913.5L1079.9 898.9M1083.2 879.5L1083.8 865.2M1086.3 845.8L1088.0 831.6M1090.1 811.2L1091.6 797.5M1093.1 777.5L1094.8 763.8M1097.0 743.8L1098.1 729.6M1100.9 709.6L1101.8 695.9M1104.6 676.2L1105.7 662.1M1108.1 641.9L1109.4 627.8M1111.9 607.5L1113.9 593.8M1115.2 573.8L1117.1 559.7M1119.2 539.8L1120.9 525.7M1122.2 505.9L1123.8 491.4M1126.8 472.1L1127.9 458.0M1131.1 438.4L1132.0 423.2M1135.2 403.8L1136.9 389.9M1140.0 370.1L1141.2 355.9M1144.3 336.4L1146.9 321.8M1150.2 302.8L1152.5 287.6M1156.4 269.1L1158.8 253.9M1163.1 235.4L1166.8 221.2M1174.2 204.2L1183.2 198.1M1193.2 213.6L1198.8 227.1M1203.2 245.9L1205.6 260.7M1208.5 279.5L1211.7 293.8M1213.9 313.2L1216.5 328.0M1218.2 346.9L1220.9 362.3M1222.0 381.1L1225.1 396.3M1226.2 415.4L1228.1 430.0M1229.7 449.4L1230.3 464.5M1232.9 483.6L1234.0 498.1M1235.2 517.7L1237.0 532.9M1238.5 552.2L1239.2 567.1M1240.9 586.0L1242.0 601.0M1243.1 620.0L1244.4 635.4M1245.9 653.7L1247.0 669.1M1248.9 687.5L1249.8 703.2M1251.3 721.5L1252.2 737.3M1254.2 756.3L1255.9 771.3M1256.9 790.4L1258.0 805.6M1260.1 824.1L1260.8 839.8M1262.9 858.7L1264.2 873.9M1266.3 892.9L1268.0 907.9M1269.1 926.6L1270.9 941.6M1272.7 960.7L1274.8 975.4M1277.1 994.7L1278.9 1009.2M1282.2 1027.7L1285.9 1043.1M1289.9 1061.8L1294.1 1075.3M1301.2 1092.8L1308.8 1106.4M1322.7 1098.6L1333.1 1097.1M1347.4 1085.5L1355.8 1075.7M1368.0 1060.0L1375.0 1047.7M1382.0 1033.5L1388.9 1020.5M1396.1 1004.3L1402.2 989.6M1409.1 973.3L1414.7 960.1M1423.1 941.0L1428.8 928.2M1436.6 910.4L1441.9 896.1M1449.2 877.0L1454.7 865.5M1462.3 848.0L1468.9 837.2M1478.7 820.1L1485.8 810.6M1499.7 794.3L1506.6 788.7M1522.8 784.1L1533.8 785.0M1548.0 785.2L1561.2 794.0M1570.1 807.3L1581.3 818.5M1589.1 835.6L1595.9 844.8M1605.6 862.6L1612.8 876.2M1619.4 892.4L1625.8 906.7M1632.5 925.7L1638.7 937.4M1645.4 957.3L1651.4 970.9M1658.5 989.0L1663.6 1003.0M1670.0 1022.1L1674.4 1035.8M1681.5 1054.5L1688.7 1075.7M1695.0 1093.9L1698.9 1105.4M1706.6 1122.6L1711.7 1136.0M1721.3 1152.6L1727.3 1162.6M1737.5 1178.6L1743.7 1192.0M1753.9 1209.1L1759.4 1221.5M1769.2 1239.4L1775.5 1251.3M1787.5 1265.2L1800.5 1270.0M1813.5 1276.0L1823.9 1273.8M1840.3 1269.0L1850.9 1264.8M1863.5 1256.4L1873.6 1251.1M1887.8 1244.0L1903.3 1244.0M1915.3 1252.1L1925.0 1259.4M1934.8 1272.0L1944.2 1285.1M1952.8 1301.3L1959.2 1316.1M1966.4 1333.6L1974.6 1348.0M1983.2 1364.9L1991.5 1375.2M2001.4 1392.1L2011.7 1403.3M2026.8 1413.3L2035.5 1421.2M2053.8 1432.2L2064.7 1438.5M2080.6 1446.8L2092.8 1450.9M2106.7 1453.1L2118.7 1461.0M2133.3 1464.8L2137.7 1465.6" fill="none" stroke="#000" stroke-width="4.1" stroke-linecap="round" shape-rendering="crispEdges"/>
<!-- annotation arrows -->
<g><path d="M1202.4 195.0L1322.6 195.0" stroke="#000" stroke-width="2.10" fill="none"/><path d="M1356.6 195.6L1320.6 204.6L1320.6 186.6Z" fill="#000"/><path d="M1141.8 537.0L1015.3 534.8" stroke="#000" stroke-width="2.10" fill="none"/><path d="M981.3 534.8L1017.5 526.4L1017.1 544.4Z" fill="#000"/><path d="M1533.2 760.2L1631.1 660.6" stroke="#000" stroke-width="1.65" fill="none"/><path d="M1654.9 637.0L1636.1 669.0L1623.2 656.4Z" fill="#000"/><path d="M1585.5 819.2L1718.9 819.2" stroke="#000" stroke-width="2.10" fill="none"/><path d="M1752.9 819.8L1716.9 828.8L1716.9 810.8Z" fill="#000"/><path d="M1925.5 1223.7L2022.3 1098.1" stroke="#000" stroke-width="1.77" fill="none"/><path d="M2043.1 1071.8L2028.2 1105.8L2014.0 1094.8Z" fill="#000"/><path d="M1910.4 1270.1L2036.9 1270.1" stroke="#000" stroke-width="2.10" fill="none"/><path d="M2070.9 1270.7L2034.9 1279.7L2034.9 1261.7Z" fill="#000"/></g>
<!-- labels -->
<g font-family='"Liberation Sans", sans-serif' fill="#000" stroke="#000" stroke-width="0.7" stroke-linejoin="round">
<g transform="translate(183.35 78.9) scale(1 1.0400)"><text font-size="80" x="3.6 45.49 90.98">100</text><g fill="#fff" stroke="none"><rect x="8.14" y="-6.73" width="15.22" height="8.28"/><rect x="31.14" y="-6.73" width="14.6" height="8.28"/></g></g>
<g transform="translate(228.84 361.12) scale(1 1.0400)"><text font-size="80" x="0 45.49">80</text></g>
<g transform="translate(228.84 643.34) scale(1 1.0400)"><text font-size="80" x="0 45.49">60</text></g>
<g transform="translate(228.84 925.56) scale(1 1.0400)"><text font-size="80" x="0 45.49">40</text></g>
<g transform="translate(228.84 1207.78) scale(1 1.0400)"><text font-size="80" x="0 45.49">20</text></g>
<g transform="translate(274.33 1490) scale(1 1.0400)"><text font-size="80" x="0">0</text></g>
<g transform="translate(480.41 1646) scale(1 1.0400)"><text font-size="80" x="0 45.49 90.98">200</text></g>
<g transform="translate(845.93 1646) scale(1 1.0400)"><text font-size="80" x="0 45.49 90.98">300</text></g>
<g transform="translate(1211.56 1646) scale(1 1.0400)"><text font-size="80" x="0 45.49 90.98">400</text></g>
<g transform="translate(1575.9 1646) scale(1 1.0400)"><text font-size="80" x="0 45.49 90.98">500</text></g>
<g transform="translate(1940.49 1646) scale(1 1.0400)"><text font-size="80" x="0 45.49 90.98">600</text></g>
<g transform="translate(70.9 1186.2) rotate(-90)"><text font-size="74.36">Heat release rate (w/g)</text></g>
<g transform="translate(991.83 1781.2)"><text font-size="74.4">Temperature (<tspan x="470.97" dy="0.5" font-family='"Liberation Serif", serif' font-size="75.6" stroke="none">°C</tspan><tspan x="554.97" dy="-0.5">)</tspan></text></g>
<g transform="translate(597.63 89.85)"><text font-size="81.1">untreated</text></g>
<g transform="translate(598.61 189) scale(1 1.0300)"><text font-size="81.1">3% BTCA</text></g>
<g transform="translate(1362.33 169) scale(1 1.0150)"><text font-size="75.2">89w/g</text></g>
<g transform="translate(1362.94 267.5) scale(1 1.0100)"><text font-size="75.2" x="0 41.82 85.75">371<tspan x="123.15" dy="0.75" font-family='"Liberation Serif", serif' font-size="75.6" stroke="none">°C</tspan></text><g fill="#fff" stroke="none"><rect x="89.93" y="-6.37" width="14.38" height="7.92"/><rect x="111.66" y="-6.37" width="13.79" height="7.92"/></g></g>
<g transform="translate(758.48 522.9) scale(1 1.0150)"><text font-size="75.2">67w/g</text></g>
<g transform="translate(759.94 622.8) scale(1 1.0100)"><text font-size="75.2">369<tspan x="123.95" dy="0.36" font-family='"Liberation Serif", serif' font-size="75.6" stroke="none">°C</tspan></text></g>
<g transform="translate(1693.07 567.7) scale(1 1.0150)"><text font-size="75.2">48w/g</text></g>
<g transform="translate(1693.07 667.8) scale(1 1.0100)"><text font-size="75.2">468<tspan x="125.21" dy="0.16" font-family='"Liberation Serif", serif' font-size="75.6" stroke="none">°C</tspan></text></g>
<g transform="translate(1766.07 802) scale(1 1.0150)"><text font-size="75.2">46w/g</text></g>
<g transform="translate(1766.07 902) scale(1 1.0100)"><text font-size="75.2">474<tspan x="125.21" dy="-0.24" font-family='"Liberation Serif", serif' font-size="75.6" stroke="none">°C</tspan></text></g>
<g transform="translate(2064.61 1019) scale(1 1.0150)"><text font-size="75.2" x="2.11 41.82 83.65 137.95 158.85">16w/g</text><g fill="#fff" stroke="none"><rect x="6.28" y="-6.37" width="14.38" height="7.92"/><rect x="28.01" y="-6.37" width="13.79" height="7.92"/></g></g>
<g transform="translate(2065.39 1117.8) scale(1 1.0100)"><text font-size="75.2">570<tspan x="123.29" dy="0.46" font-family='"Liberation Serif", serif' font-size="75.6" stroke="none">°C</tspan></text></g>
<g transform="translate(2074.31 1242) scale(1 1.0150)"><text font-size="75.2" x="2.11 41.82 83.65 137.95 158.85">13w/g</text><g fill="#fff" stroke="none"><rect x="6.28" y="-6.37" width="14.38" height="7.92"/><rect x="28.01" y="-6.37" width="13.79" height="7.92"/></g></g>
<g transform="translate(2074.79 1342) scale(1 1.0100)"><text font-size="75.2">570<tspan x="123.89" dy="0.36" font-family='"Liberation Serif", serif' font-size="75.6" stroke="none">°C</tspan></text></g>
</g>
</svg>
</body>
</html>
